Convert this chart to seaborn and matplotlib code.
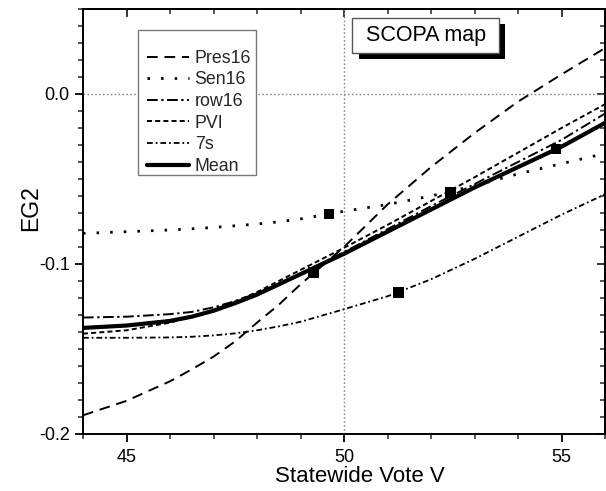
import numpy as np
import pandas as pd
import matplotlib
matplotlib.use("Agg")
import matplotlib.pyplot as plt
from matplotlib.patches import Rectangle
from matplotlib.ticker import MultipleLocator
import seaborn as sns

# ---- data ----
vote = [44, 45, 46, 46.5, 47, 47.5, 48, 48.5, 49, 50, 51, 52, 53, 54, 55, 56]
pres16 = [-0.189, -0.1805, -0.169, -0.162, -0.1545, -0.1455, -0.1345, -0.124, -0.112,
          -0.090, -0.065, -0.043, -0.023, -0.0045, 0.0115, 0.027]
sen16 = [-0.082, -0.081, -0.080, -0.0793, -0.0785, -0.0775, -0.0765, -0.0752, -0.0735,
         -0.069, -0.065, -0.060, -0.054, -0.047, -0.041, -0.035]
row16 = [-0.1315, -0.131, -0.1295, -0.1282, -0.1255, -0.1218, -0.1172, -0.1115, -0.1055,
         -0.093, -0.0795, -0.066, -0.053, -0.040, -0.027, -0.0115]
pvi = [-0.141, -0.139, -0.1345, -0.131, -0.127, -0.122, -0.1165, -0.110, -0.1035,
       -0.0905, -0.077, -0.063, -0.049, -0.0345, -0.020, -0.006]
seven_s = [-0.1434, -0.1434, -0.1432, -0.1428, -0.142, -0.1408, -0.139, -0.1367, -0.134,
           -0.1266, -0.119, -0.109, -0.097, -0.084, -0.071, -0.059]
mean = [-0.1376, -0.1362, -0.1335, -0.131, -0.1275, -0.123, -0.118, -0.112, -0.106,
        -0.094, -0.081, -0.068, -0.055, -0.043, -0.031, -0.017]
mark_x = [49.3, 49.65, 51.25, 52.45, 54.88]
mark_y = [-0.105, -0.0705, -0.1167, -0.058, -0.0325]

series_names = ["Pres16", "Sen16", "row16", "PVI", "7s", "Mean"]
series_vals = [pres16, sen16, row16, pvi, seven_s, mean]
styles = {
    "Pres16": dict(linestyle=(0, (5.5, 3.5)), lw=1.4),
    "Sen16": dict(linestyle=(0, (0.9, 4.0)), lw=2.0),
    "row16": dict(linestyle=(0, (5.5, 1.8, 1.2, 1.8)), lw=1.4),
    "PVI": dict(linestyle=(0, (2.6, 1.6)), lw=1.4),
    "7s": dict(linestyle=(0, (3.2, 1.6, 1.0, 1.6)), lw=1.3),
    "Mean": dict(linestyle="-", lw=3.0),
}

sns.set_theme(style="white")
plt.rcParams["font.family"] = ["Liberation Sans", "DejaVu Sans"]
plt.rcParams["axes.unicode_minus"] = True

fig = plt.figure(figsize=(6.06, 4.91), dpi=100)
ax = fig.add_axes([83 / 606, (491 - 434) / 491, (605 - 83) / 606, (434 - 9) / 491])

# reference lines
ax.axhline(0.0, color="#8a8a8a", lw=1.0, linestyle=(0, (1.2, 1.6)), zorder=1)
ax.axvline(50, color="#8a8a8a", lw=1.0, linestyle=(0, (1.2, 1.6)), zorder=1)

for name, vals in zip(series_names, series_vals):
    df = pd.DataFrame({"V": vote, "EG2": vals})
    st = styles[name]
    sns.lineplot(data=df, x="V", y="EG2", ax=ax, color="black",
                 linestyle=st["linestyle"], lw=st["lw"], label=name, zorder=3)

sns.scatterplot(x=mark_x, y=mark_y, ax=ax, marker="s", s=55, color="black",
                edgecolor="none", zorder=5, legend=False)

ax.set_xlim(44, 56)
ax.set_ylim(-0.2, 0.05)
ax.xaxis.set_major_locator(MultipleLocator(5))
ax.xaxis.set_minor_locator(MultipleLocator(1))
ax.yaxis.set_major_locator(MultipleLocator(0.1))
ax.yaxis.set_minor_locator(MultipleLocator(0.01))
ax.yaxis.set_major_formatter(matplotlib.ticker.FormatStrFormatter("%.1f"))

for s in ax.spines.values():
    s.set_color("black")
    s.set_linewidth(1.4)

ax.tick_params(axis="both", which="major", direction="out", length=6, width=1.3,
               labelsize=13, colors="black", bottom=True, left=True, pad=3.5)
ax.tick_params(axis="x", which="major", pad=4.5)
ax.tick_params(axis="both", which="minor", direction="out", length=3.5, width=1.1,
               bottom=True, left=True)

# mirrored ticks pointing inward on top and right
secx = ax.secondary_xaxis("top")
secx.xaxis.set_major_locator(MultipleLocator(5))
secx.xaxis.set_minor_locator(MultipleLocator(1))
secx.tick_params(which="major", direction="in", length=6, width=1.3, labeltop=False)
secx.tick_params(which="minor", direction="in", length=3.5, width=1.1)
secx.spines["top"].set_linewidth(1.4)
secy = ax.secondary_yaxis("right")
secy.yaxis.set_major_locator(MultipleLocator(0.1))
secy.yaxis.set_minor_locator(MultipleLocator(0.01))
secy.tick_params(which="major", direction="in", length=6, width=1.3, labelright=False)
secy.tick_params(which="minor", direction="in", length=3.5, width=1.1)
secy.spines["right"].set_linewidth(1.4)

ax.set_xlabel("Statewide Vote V", fontsize=16, color="black")
ax.set_ylabel("EG2", fontsize=16.5, color="black")
ax.xaxis.set_label_coords(0.53, -0.076)
ax.yaxis.set_label_coords(-0.079, 0.532)

# legend with manual frame
frame = Rectangle((0.105, 0.610), 0.226, 0.341, transform=ax.transAxes,
                  facecolor="white", edgecolor="#7a7a7a", lw=1.0, zorder=6)
ax.add_patch(frame)
leg = ax.legend(loc="upper left", bbox_to_anchor=(0.122, 0.904), frameon=False,
                fontsize=12.8, handlelength=2.4, handletextpad=0.3,
                labelspacing=0.26, borderpad=0, borderaxespad=0)
leg.set_zorder(7)

# SCOPA map box with shadow
shadow = Rectangle((0.528, 0.882), 0.281, 0.083, transform=ax.transAxes,
                   facecolor="black", edgecolor="black", lw=0, zorder=6)
ax.add_patch(shadow)
box = Rectangle((0.516, 0.896), 0.281, 0.083, transform=ax.transAxes,
                facecolor="white", edgecolor="#555555", lw=1.0, zorder=7)
ax.add_patch(box)
ax.text(0.6565, 0.9375, "SCOPA map", transform=ax.transAxes, ha="center",
        va="center", fontsize=15.5, color="black", zorder=8)

fig.savefig("out.png", dpi=100)
